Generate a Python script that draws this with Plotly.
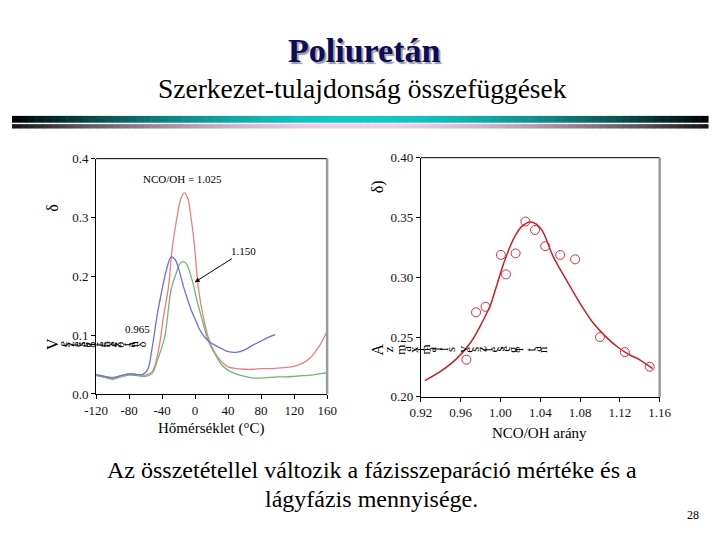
import plotly.graph_objects as go

# ---------------- data ----------------
# left chart: loss factor vs temperature for three NCO/OH ratios
t_red = [-120, -110, -100, -90, -80, -70, -60, -52, -45, -38, -32, -28, -22, -17, -13, -9, -5, -1, 4, 10, 16, 24, 32, 40, 50, 60, 70, 80, 90, 100, 110, 120, 130, 140, 150, 160]
d_red = [0.033, 0.030, 0.028, 0.031, 0.034, 0.033, 0.032, 0.038, 0.070, 0.134, 0.185, 0.245, 0.300, 0.333, 0.342, 0.333, 0.300, 0.255, 0.180, 0.130, 0.096, 0.070, 0.055, 0.046, 0.043, 0.042, 0.042, 0.043, 0.043, 0.044, 0.045, 0.047, 0.052, 0.062, 0.080, 0.107]

t_blue = [-120, -110, -100, -90, -80, -70, -64, -58, -52, -46, -40, -34, -29, -24, -19, -14, -9, -4, 1, 6, 12, 18, 24, 32, 40, 51, 60, 70, 80, 90, 97]
d_blue = [0.033, 0.030, 0.027, 0.031, 0.034, 0.033, 0.033, 0.040, 0.079, 0.134, 0.178, 0.215, 0.233, 0.228, 0.208, 0.182, 0.160, 0.140, 0.124, 0.108, 0.096, 0.088, 0.083, 0.077, 0.072, 0.071, 0.075, 0.083, 0.090, 0.097, 0.101]

t_green = [-120, -110, -100, -90, -80, -70, -60, -52, -45, -37, -29, -23, -18, -14, -10, -6, -2, 2, 9, 16, 24, 32, 40, 48, 60, 70, 80, 90, 100, 110, 120, 130, 140, 150, 160]
d_green = [0.031, 0.028, 0.025, 0.029, 0.032, 0.031, 0.030, 0.035, 0.060, 0.096, 0.178, 0.205, 0.222, 0.225, 0.220, 0.205, 0.185, 0.160, 0.124, 0.090, 0.068, 0.050, 0.040, 0.035, 0.030, 0.027, 0.027, 0.028, 0.029, 0.029, 0.030, 0.031, 0.032, 0.034, 0.036]

# right chart: peak tan delta vs NCO/OH ratio
ratio_pts = [0.9657, 0.9754, 0.985, 1.0004, 1.0055, 1.0152, 1.025, 1.0347, 1.045, 1.060, 1.075, 1.100, 1.125, 1.150]
delta_pts = [0.2311, 0.2707, 0.2753, 0.3187, 0.3024, 0.320, 0.3466, 0.3396, 0.326, 0.3187, 0.315, 0.250, 0.2374, 0.2252]

ratio_fit = [0.924, 0.94, 0.956, 0.970, 0.982, 0.990, 0.995, 1.0045, 1.014, 1.022, 1.030, 1.036, 1.042, 1.053, 1.066, 1.073, 1.082, 1.092, 1.105, 1.118, 1.130, 1.140, 1.153]
delta_fit = [0.2136, 0.2215, 0.232, 0.2455, 0.263, 0.277, 0.290, 0.3146, 0.3336, 0.343, 0.3463, 0.3445, 0.339, 0.3173, 0.298, 0.288, 0.2755, 0.263, 0.251, 0.2415, 0.235, 0.231, 0.2236]

left_xticks = [-120, -80, -40, 0, 40, 80, 120, 160]
left_xtext = ["-120", "-80", "-40", "0", "40", "80", "120", "160"]
left_yticks = [0.0, 0.1, 0.2, 0.3, 0.4]
left_ytext = ["0.0", "0.1", "0.2", "0.3", "0.4"]
right_xticks = [0.92, 0.96, 1.00, 1.04, 1.08, 1.12, 1.16]
right_xtext = ["0.92", "0.96", "1.00", "1.04", "1.08", "1.12", "1.16"]
right_yticks = [0.20, 0.25, 0.30, 0.35, 0.40]
right_ytext = ["0.20", "0.25", "0.30", "0.35", "0.40"]

W, H = 720, 540
SERIF = "Liberation Serif"


def px(x):
    return x / W


def py(y):
    return 1 - y / H


fig = go.Figure()

fig.add_trace(go.Scatter(x=t_red, y=d_red, mode="lines", line=dict(color="#e88080", width=1.3, shape="spline"),
                         xaxis="x", yaxis="y", showlegend=False))
fig.add_trace(go.Scatter(x=t_green, y=d_green, mode="lines", line=dict(color="#72b872", width=1.3, shape="spline"),
                         xaxis="x", yaxis="y", showlegend=False))
fig.add_trace(go.Scatter(x=t_blue, y=d_blue, mode="lines", line=dict(color="#7070e0", width=1.3, shape="spline"),
                         xaxis="x", yaxis="y", showlegend=False))

fig.add_trace(go.Scatter(x=ratio_fit, y=delta_fit, mode="lines", line=dict(color="#cc1f2a", width=1.5, shape="spline"),
                         xaxis="x2", yaxis="y2", showlegend=False))
fig.add_trace(go.Scatter(x=ratio_pts, y=delta_pts, mode="markers",
                         marker=dict(symbol="circle-open", size=9, color="#d8303a", line=dict(width=1)),
                         xaxis="x2", yaxis="y2", showlegend=False))

axis_common = dict(showgrid=False, zeroline=False, showline=True, linecolor="black", linewidth=1,
                   ticks="outside", ticklen=4, tickcolor="black",
                   tickfont=dict(family=SERIF, size=13, color="#111"))

fig.update_layout(
    width=W, height=H,
    margin=dict(l=0, r=0, t=0, b=0),
    font=dict(family=SERIF),
    paper_bgcolor="white", plot_bgcolor="white",
    xaxis=dict(axis_common, domain=[px(87), px(326)], range=[-120, 160], tickvals=left_xticks,
               ticktext=left_xtext, anchor="y"),
    yaxis=dict(axis_common, domain=[py(398), py(156)], range=[0, 0.4], tickvals=left_yticks,
               ticktext=left_ytext, anchor="x"),
    xaxis2=dict(axis_common, domain=[px(423), px(670)], range=[0.92, 1.16], tickvals=right_xticks,
                ticktext=right_xtext, anchor="y2"),
    yaxis2=dict(axis_common, domain=[py(401), py(155)], range=[0.2, 0.4], tickvals=right_yticks,
                ticktext=right_ytext, anchor="x2"),
)

shapes = []
# plot frames: black top, grey right
for (x0, x1, y0, y1) in [(87, 326, 156, 398), (423, 670, 155, 401)]:
    shapes.append(dict(type="line", xref="paper", yref="paper", x0=px(x0), x1=px(x1), y0=py(y0), y1=py(y0),
                       line=dict(color="black", width=1)))
    shapes.append(dict(type="line", xref="paper", yref="paper", x0=px(x1), x1=px(x1), y0=py(y0), y1=py(y1),
                       line=dict(color="#9a9a9a", width=2.5)))


# gradient separator bars
def lerp(c1, c2, t):
    return "rgb(%d,%d,%d)" % tuple(int(a + (b - a) * t) for a, b in zip(c1, c2))


N = 90
seg = W / N
for i in range(N):
    xc = (i + 0.5) * seg
    t = abs(xc - W / 2) / (W / 2)
    tt = min(1.0, t ** 1.8)
    shapes.append(dict(type="rect", xref="paper", yref="paper", x0=px(i * seg), x1=px((i + 1) * seg + 0.6),
                       y0=py(119), y1=py(112), line=dict(width=0),
                       fillcolor=lerp((20, 200, 200), (0, 0, 0), tt)))
    shapes.append(dict(type="rect", xref="paper", yref="paper", x0=px(i * seg), x1=px((i + 1) * seg + 0.6),
                       y0=py(125), y1=py(120.5), line=dict(width=0),
                       fillcolor=lerp((240, 208, 240), (20, 20, 20), tt)))
fig.update_layout(shapes=shapes)

ann = []


def text(x, y, s, size, color="black", bold=False, angle=0, xanchor="center", shadow=None):
    f = dict(family=SERIF, size=size, color=color)
    if shadow:
        f["shadow"] = shadow
    ann.append(dict(x=px(x), y=py(y), xref="paper", yref="paper", text=("<b>%s</b>" % s) if bold else s,
                    showarrow=False, xanchor=xanchor, yanchor="middle", textangle=angle, font=f))


# title with shadow
text(364, 45, "Poliuretán", 34, color="#0c0c5c", bold=True, shadow="2px 2px 1px #9a9a9a")
text(363, 84, "Szerkezet-tulajdonság összefüggések", 27.5)

# axis titles
text(206, 434, "Hőmérséklet (°C)", 15)
text(546, 438, "NCO/OH arány", 15)

# left chart labels
text(176, 177, "NCO/OH = 1.025", 11)
text(130, 331, "0.965", 11)
ann.append(dict(x=-0.5, y=0.19, xref="x", yref="y", text="1.150", showarrow=True, ax=49, ay=-31,
                axref="pixel", ayref="pixel", arrowhead=2, arrowsize=1, arrowwidth=1, arrowcolor="black",
                font=dict(family=SERIF, size=11, color="black")))

# garbled rotated axis labels (as in the reference)
text(42, 347, "V", 16, angle=-90)
left_chars = "eszteségi tényező tan δ"
for i, ch in enumerate(left_chars):
    if ch != " ":
        text(53 + i * 3.7, 347, ch, 12, angle=-90)
text(42, 207, "δ", 16, angle=-90)

text(378, 352, "A", 16, angle=-90)
right_chars = "z maximális veszteségi tan"
for i, ch in enumerate(right_chars):
    if ch != " ":
        text(389 + i * 6.4, 352, ch, 13, angle=-90)
text(378, 185, "δ)", 16, angle=-90)

# bottom text
text(372, 476, "Az összetétellel változik a fázisszeparáció mértéke és a", 24)
text(372, 506, "lágyfázis mennyisége.", 24)
text(704, 522, "28", 12)

fig.update_layout(annotations=ann)

fig.write_html("out.html", config={"displayModeBar": False},
               post_script="document.body.style.margin='0px';")
